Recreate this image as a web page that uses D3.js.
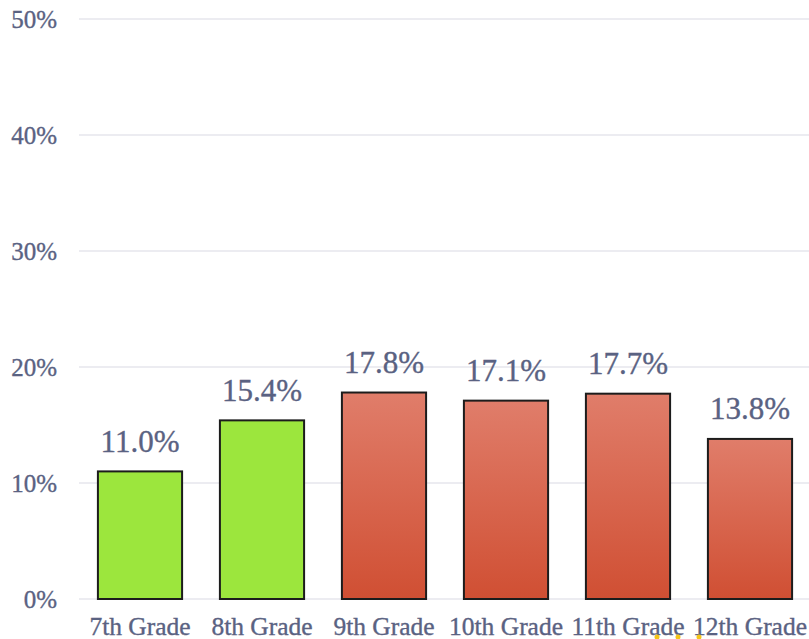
<!DOCTYPE html>
<html>
<head>
<meta charset="utf-8">
<script src="https://cdn.jsdelivr.net/npm/d3@7"></script>
<style>
  html, body { margin: 0; padding: 0; background: #fff; }
  svg { display: block; }
  text { font-family: "Liberation Serif", "DejaVu Serif", serif; fill: #5a6282; stroke: #5a6282; stroke-width: 0.35px; }
</style>
</head>
<body>
<svg id="chart" width="809" height="639"></svg>
<script>
const categories = ["7th Grade", "8th Grade", "9th Grade", "10th Grade", "11th Grade", "12th Grade"];
const values = [11.0, 15.4, 17.8, 17.1, 17.7, 13.8];
const groups = ["middle", "middle", "high", "high", "high", "high"];
const yTicks = [0, 10, 20, 30, 40, 50];

const W = 809, H = 639;
const svg = d3.select("#chart");
const FONT = '"Liberation Serif", "DejaVu Serif", serif';

const x = d3.scaleBand().domain(categories).range([79, 811]).paddingInner(0.31).paddingOuter(0.155);
const y = d3.scaleLinear().domain([0, 50]).range([599, 19]);

const defs = svg.append("defs");
const grad = defs.append("linearGradient").attr("id", "redGrad").attr("x1", 0).attr("y1", 0).attr("x2", 0).attr("y2", 1);
grad.append("stop").attr("offset", "0%").attr("stop-color", "#e07d6a");
grad.append("stop").attr("offset", "100%").attr("stop-color", "#d04f33");

// grid
svg.append("g").selectAll("line").data(yTicks).join("line")
  .attr("x1", 79).attr("x2", W)
  .attr("y1", d => y(d)).attr("y2", d => y(d))
  .attr("stroke", "#e6e6ec").attr("stroke-width", 1.5);

// y axis labels
const yAxis = d3.axisLeft(y).tickValues(yTicks).tickFormat(d => d + "%").tickSize(0).tickPadding(0);
const gy = svg.append("g").attr("transform", "translate(57,0)").call(yAxis);
gy.select(".domain").remove();
gy.selectAll("text").style("font-size", "25px").attr("fill", "#5a6282").attr("dy", "0.35em")
  .style("font-family", FONT);

// bars
svg.append("g").selectAll("rect").data(categories).join("rect")
  .attr("x", d => x(d))
  .attr("y", (d, i) => y(values[i]))
  .attr("width", x.bandwidth())
  .attr("height", (d, i) => y(0) - y(values[i]))
  .attr("fill", (d, i) => groups[i] === "middle" ? "#9ce63d" : "url(#redGrad)")
  .attr("stroke", "#1c1c1c").attr("stroke-width", 2);

// value labels
svg.append("g").selectAll("text").data(categories).join("text")
  .attr("x", d => x(d) + x.bandwidth() / 2)
  .attr("y", (d, i) => y(values[i]) - 19.5)
  .attr("text-anchor", "middle")
  .style("font-size", "31px")
  .text((d, i) => values[i].toFixed(1) + "%");

// x axis labels
const xAxis = d3.axisBottom(x).tickSize(0).tickPadding(0);
const gx = svg.append("g").attr("transform", "translate(0,599)").call(xAxis);
gx.select(".domain").remove();
gx.selectAll("text").style("font-size", "25.5px").attr("fill", "#5a6282").attr("dy", null).attr("y", 36)
  .style("font-family", FONT);

// small yellow dots near bottom (as in reference)
const dots = [657, 678, 699];
svg.append("g").selectAll("circle").data(dots).join("circle")
  .attr("cx", d => d).attr("cy", 637).attr("r", 2.5).attr("fill", "#f5c518");
</script>
</body>
</html>
